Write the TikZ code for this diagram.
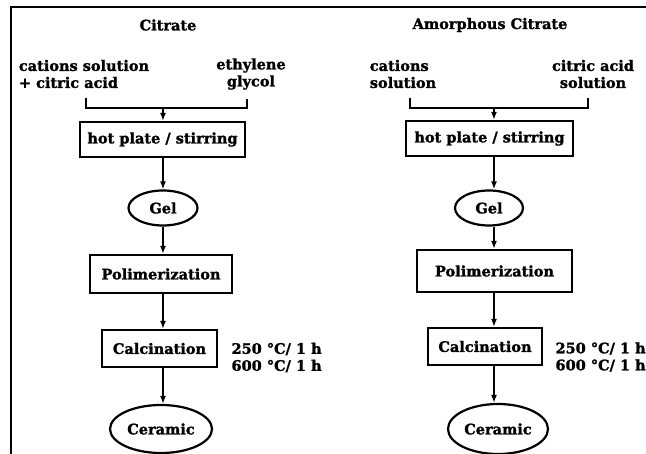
\documentclass[tikz,border=0pt]{standalone}
\usepackage{fontspec}
\setmainfont[BoldFeatures={FakeBold=1.5}]{DejaVu Serif}
\usetikzlibrary{shapes.geometric, arrows.meta}

\tikzset{
	stepbox/.style = {draw, line width=2.2pt, inner sep=0pt},
	blob/.style = {draw, ellipse, line width=2.2pt, inner sep=0pt},
	flow/.style = {line width=2.2pt, -{Latex[length=8pt, width=6pt]}},
	brace/.style = {line width=2.2pt},
}

\begin{document}
\begin{tikzpicture}[x=1pt, y=-1pt, font=\fontsize{14.5}{17}\selectfont\bfseries]
		\def\cA{163};
		\def\cB{494};

		\useasboundingbox (0,0) rectangle (646,454);
		\draw[line width=2.6pt] (11,454) -- (11,7) -- (646,7);

		\begin{scope}
			\coordinate (axA) at (\cA,0);

			\node (titA) at (168,25) {Citrate};

			\node [align=left] (inA1) at (84,74) {cations solution\\+ citric acid};
			\node [align=center] (inA2) at (251,74) {ethylene\\glycol};
			\coordinate (jA) at (\cA,108);

			\node [stepbox, minimum width=165pt, minimum height=35pt] (hotA) at (162.5,139.5) {hot plate / stirring};
			\node [blob, minimum width=69pt, minimum height=35pt] (gelA) at (\cA,208) {Gel};
			\node [stepbox, minimum width=142pt, minimum height=38pt] (polA) at (161,274) {Polimerization};
			\node [stepbox, minimum width=115pt, minimum height=37pt] (calA) at (159.5,348.5) {Calcination};
			\node [align=left, anchor=west] (tmpA) at (228,357.5) {250 °C/ 1 h\\600 °C/ 1 h};
			\node [blob, minimum width=102pt, minimum height=48pt] (cerA) at (161,429) {Ceramic};

			\draw[brace, shorten <=6pt, shorten >=6pt] ([xshift=2pt]inA1.south) |- (jA) -| ([xshift=-4pt]inA2.south);
			\draw[flow] (jA) -- (axA |- hotA.north);
			\draw[flow] (axA |- hotA.south) -- (axA |- gelA.north);
			\draw[flow] (axA |- gelA.south) -- (axA |- polA.north);
			\draw[flow] (axA |- polA.south) -- (axA |- calA.north);
			\draw[flow] (axA |- calA.south) -- (axA |- cerA.north);
		\end{scope}

		\begin{scope}
			\coordinate (axB) at (\cB,0);

			\node (titB) at (490,25) {Amorphous Citrate};

			\node [align=left] (inB1) at (403,74) {cations\\solution};
			\node [align=center] (inB2) at (593,74) {citric acid\\solution};
			\coordinate (jB) at (\cB,108);

			\node [stepbox, minimum width=167pt, minimum height=35pt] (hotB) at (489.5,138.5) {hot plate / stirring};
			\node [blob, minimum width=68pt, minimum height=35pt] (gelB) at (489,208) {Gel};
			\node [stepbox, minimum width=155pt, minimum height=42pt] (polB) at (494.5,271) {Polimerization};
			\node [stepbox, minimum width=114pt, minimum height=37pt] (calB) at (485,346.5) {Calcination};
			\node [align=left, anchor=west] (tmpB) at (552,357) {250 °C/ 1 h\\600 °C/ 1 h};
			\node [blob, minimum width=100pt, minimum height=50pt] (cerB) at (498,429) {Ceramic};

			\draw[brace, shorten <=6pt, shorten >=6pt] ([xshift=7pt]inB1.south) |- (jB) -| ([xshift=-5pt]inB2.south);
			\draw[flow] (jB) -- (axB |- hotB.north);
			\draw[flow] (axB |- hotB.south) -- (axB |- gelB.north);
			\draw[flow] (axB |- gelB.south) -- (axB |- polB.north);
			\draw[flow] (axB |- polB.south) -- (axB |- calB.north);
			\draw[flow] (axB |- calB.south) -- (axB |- cerB.north);
		\end{scope}
	\end{tikzpicture}
\end{document}
